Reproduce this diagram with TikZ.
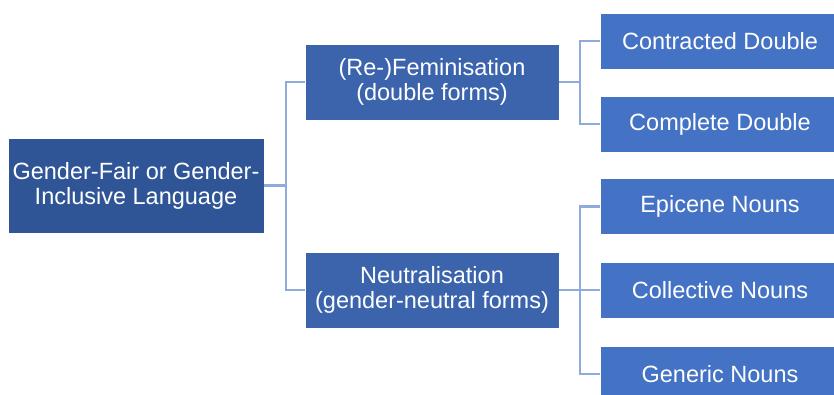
\documentclass[tikz,border=0pt]{standalone}
\usepackage{fontspec}
\setmainfont{Liberation Sans}
\usetikzlibrary{positioning,arrows.meta}

\definecolor{rootblue}{RGB}{47,85,151}
\definecolor{midblue}{RGB}{59,100,173}
\definecolor{leafblue}{RGB}{68,114,196}
\definecolor{linkblue}{RGB}{143,170,220}

\tikzset{
  box/.style={draw=white, line width=0.6pt, text=white, align=center, inner sep=0pt,
    font=\fontsize{23.5}{25}\selectfont},
  rootbox/.style={box, fill=rootblue, minimum width=256, minimum height=95},
  midbox/.style={box, fill=midblue, minimum width=254, minimum height=76},
  leafbox/.style={box, fill=leafblue, minimum width=240, minimum height=56},
  link/.style={draw=linkblue, line width=2.2pt}
}

\begin{document}
\begin{tikzpicture}[x=1pt, y=-1pt]
      \clip (0,0) rectangle (834,395);
      \fill[white] (0,0) rectangle (834,395);
      % tree
      \node[rootbox] (root) at (136,185.5) {Gender-Fair or Gender-\\Inclusive Language};
      \node[midbox] (fem) at (432,82) {(Re-)Feminisation\\(double forms)};
      \node[midbox] (neut) at (432,290) {Neutralisation\\(gender-neutral forms)};
      \node[leafbox] (contr) at (720,41) {Contracted Double};
      \node[leafbox] (compl) at (720,124) {Complete Double};
      \node[leafbox] (epic) at (720,206.5) {Epicene Nouns};
      \node[leafbox] (coll) at (720,290) {Collective Nouns};
      \node[leafbox] (gen) at (720,374) {Generic Nouns};
      % links
      \draw[link] (root.east) -- ++(22,0) |- (fem.west);
      \draw[link] (root.east) -- ++(22,0) |- (neut.west);
      \draw[link] (fem.east) -- ++(21,0) |- (contr.west);
      \draw[link] (fem.east) -- ++(21,0) |- (compl.west);
      \draw[link] (neut.east) -- ++(21,0) |- (epic.west);
      \draw[link] (neut.east) -- (coll.west);
      \draw[link] (neut.east) -- ++(21,0) |- (gen.west);
    \end{tikzpicture}
\end{document}
